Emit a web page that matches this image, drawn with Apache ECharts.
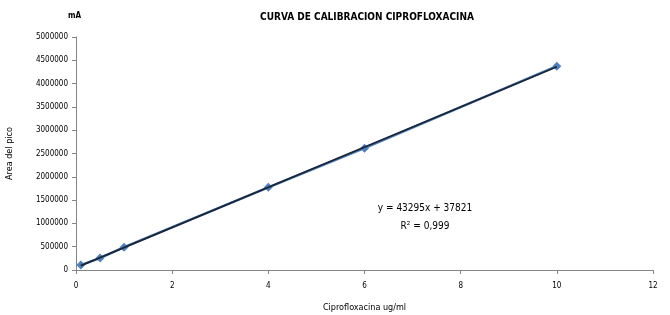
<!DOCTYPE html>
<html><head><meta charset="utf-8">
<script src="https://cdn.jsdelivr.net/npm/echarts@6/dist/echarts.min.js"></script>
<style>html,body{margin:0;padding:0;background:#fff}#c{width:670px;height:315px}</style>
</head><body><div id="c"></div>
<script>
var concentrations = [0.1, 0.5, 1, 4, 6, 10];
var areas = [105000, 255000, 490000, 1775000, 2615000, 4375000];
var trendRange = [0.1, 10];
var yTicks = [0, 500000, 1000000, 1500000, 2000000, 2500000, 3000000, 3500000, 4000000, 4500000, 5000000];
var xTicks = [0, 2, 4, 6, 8, 10, 12];
var titleText = 'CURVA DE CALIBRACION CIPROFLOXACINA';
var eqText = 'y = 43295x + 37821';
var r2Text = 'R² = 0,999';

// least-squares trendline through the data
var n = concentrations.length, sx=0, sy=0, sxx=0, sxy=0;
for (var i=0;i<n;i++){sx+=concentrations[i];sy+=areas[i];sxx+=concentrations[i]*concentrations[i];sxy+=concentrations[i]*areas[i];}
var slope = (n*sxy - sx*sy)/(n*sxx - sx*sx);
var intercept = (sy - slope*sx)/n;

var F = '"DejaVu Sans Condensed","Liberation Sans Narrow",sans-serif';
var chart = echarts.init(document.getElementById('c'), null, {renderer:'canvas'});
var dataPts = concentrations.map(function(x,i){return [x, areas[i]];});
var trendPts = trendRange.map(function(x){return [x, slope*x + intercept];});
chart.setOption({
  animation:false,
  backgroundColor:'#fff',
  title:{text:titleText,left:362,top:7,textAlign:'center',
    textStyle:{fontFamily:F,fontSize:10,fontWeight:'bold',color:'#000'}},
  grid:{left:76,right:17,top:37,bottom:45,containLabel:false,outerBoundsMode:'none'},
  xAxis:{type:'value',min:0,max:12,interval:2,
    name:'Ciprofloxacina ug/ml',nameLocation:'middle',nameGap:33,
    nameTextStyle:{fontFamily:F,fontSize:9,color:'#000'},
    axisLine:{show:true,lineStyle:{color:'#868686'}},
    axisTick:{show:true,length:4,lineStyle:{color:'#868686'}},
    axisLabel:{fontFamily:F,fontSize:8,color:'#000',margin:12,formatter:function(v){return String(v);}},
    splitLine:{show:false}},
  yAxis:{type:'value',min:0,max:5000000,interval:500000,
    name:'Area del pico',nameLocation:'middle',nameGap:62,
    nameTextStyle:{fontFamily:F,fontSize:9,color:'#000'},
    axisLine:{show:true,lineStyle:{color:'#868686'}},
    axisTick:{show:true,length:4,lineStyle:{color:'#868686'}},
    axisLabel:{fontFamily:F,fontSize:8,color:'#000',margin:8,formatter:function(v){return String(v);}},
    splitLine:{show:false}},
  graphic:[
    {type:'text',left:68,top:12,style:{text:'mA',font:'bold 8px '+F,fill:'#000'}},
    {type:'text',x:425,y:208,style:{text:eqText,font:'10px '+F,fill:'#000',textAlign:'center',textVerticalAlign:'middle'}},
    {type:'text',x:425,y:226,style:{text:r2Text,font:'10px '+F,fill:'#000',textAlign:'center',textVerticalAlign:'middle'}}
  ],
  series:[
    {type:'line',data:dataPts,symbol:'diamond',symbolSize:9,
      itemStyle:{color:'#4F81BD'},lineStyle:{color:'#4F81BD',width:2.5},z:2},
    {type:'line',data:trendPts,symbol:'none',
      lineStyle:{color:'#1A2438',width:1.8},z:3}
  ]
});
</script></body></html>
